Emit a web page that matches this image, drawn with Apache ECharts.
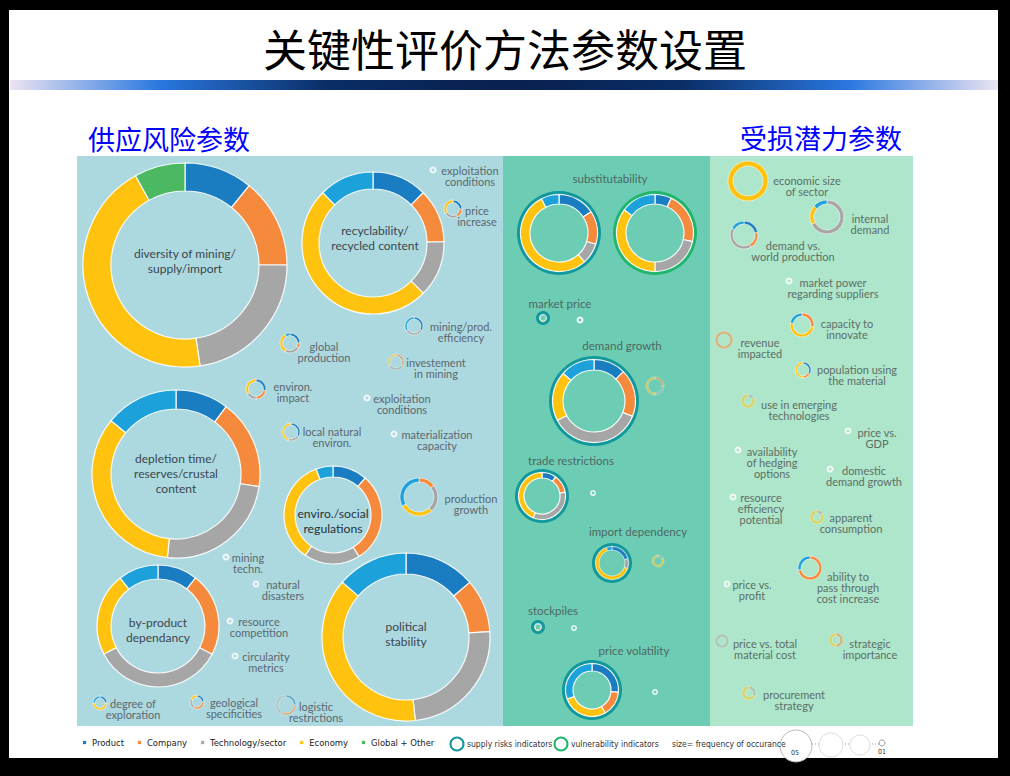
<!DOCTYPE html>
<html><head><meta charset="utf-8">
<script src="https://cdn.jsdelivr.net/npm/echarts/dist/echarts.min.js"></script>
<style>html,body{margin:0;padding:0;background:#000;}#c{width:1010px;height:776px;}</style>
</head><body><div id="c"></div>
<script>
// ---------------- DATA ----------------
const categories = ['Product', 'Company', 'Technology/sector', 'Economy', 'Global + Other', 'Product (other)'];

const indicators = [
  'diversity of mining/\nsupply/import', 'recyclability/\nrecycled content', 'depletion time/\nreserves/crustal\ncontent',
  'enviro./social\nregulations', 'by-product\ndependancy', 'political\nstability', 'production\ngrowth',
  'exploitation\nconditions', 'price\nincrease', 'mining/prod.\nefficiency', 'global\nproduction', 'investement\nin mining',
  'environ.\nimpact', 'exploitation\nconditions', 'local natural\nenviron.', 'materialization\ncapacity', 'mining\ntechn.',
  'natural\ndisasters', 'resource\ncompetition', 'circularity\nmetrics', 'degree of\nexploration', 'geological\nspecificities',
  'logistic\nrestrictions',
  'substitutability', 'substitutability', 'market price', 'market price', 'demand growth', 'demand growth',
  'trade restrictions', 'trade restrictions', 'import dependency', 'import dependency', 'stockpiles', 'stockpiles',
  'price volatility', 'price volatility',
  'economic size\nof sector', 'internal\ndemand', 'demand vs.\nworld production', 'market power\nregarding suppliers',
  'capacity to\ninnovate', 'revenue\nimpacted', 'population using\nthe material', 'use in emerging\ntechnologies',
  'price vs.\nGDP', 'availability\nof hedging\noptions', 'domestic\ndemand growth', 'resource\nefficiency\npotential',
  'apparent\nconsumption', 'ability to\npass through\ncost increase', 'price vs.\nprofit', 'price vs. total\nmaterial cost',
  'strategic\nimportance', 'procurement\nstrategy'
];

// shares of each category (read as arc degrees), one entry per indicator; all zero = single occurrence dot
const product      = [39, 45, 36.7, 41, 38, 49.4, 0,   0, 90, 120, 90, 0, 100, 0, 120, 0, 0, 0, 0, 0, 90, 90, 90,   56.6, 25, 120, 0, 45, 0, 35.6, 0, 75, 0, 90, 0, 95, 0,   0, 0, 80, 0, 0, 0, 120, 0, 0, 0, 0, 0, 0, 0, 0, 0, 0, 0];
const company      = [51, 44, 61.9, 107, 79.6, 36.9, 52, 0, 60, 0, 30, 120, 80, 0, 0, 0, 0, 0, 0, 0, 0, 120, 120,   50.4, 78, 0, 0, 66.7, 90, 45, 0, 0, 0, 90, 0, 55, 0,   0, 0, 70, 0, 100, 360, 60, 0, 0, 0, 0, 0, 0, 260, 0, 0, 180, 0];
const technology   = [81.5, 46, 87.3, 66.6, 125, 87.3, 86, 0, 90, 120, 90, 120, 60, 0, 80, 0, 0, 0, 0, 0, 0, 90, 150,   31.5, 77, 0, 0, 130.3, 90, 121.5, 0, 35, 60, 0, 0, 0, 0,   0, 245, 150, 0, 0, 0, 0, 60, 0, 0, 0, 0, 60, 0, 0, 360, 0, 120];
const economy      = [159.5, 180, 123.5, 125.4, 79.2, 137.1, 104, 0, 120, 0, 120, 120, 120, 0, 160, 0, 0, 0, 0, 0, 180, 60, 0,   194.5, 127, 180, 0, 70, 180, 158, 0, 230, 300, 90, 0, 100, 0,   360, 65, 0, 0, 180, 0, 180, 300, 0, 0, 0, 0, 300, 0, 0, 0, 180, 240];
const globalOther  = [29, 0, 0, 0, 0, 0, 0, 0, 0, 0, 0, 0, 0, 0, 0, 0, 0, 0, 0, 0, 0, 0, 0,   0, 0, 0, 0, 0, 0, 0, 0, 0, 0, 0, 0, 0, 0,   0, 0, 0, 0, 0, 0, 0, 0, 0, 0, 0, 0, 0, 0, 0, 0, 0, 0];
const productOther = [0, 45, 50.6, 20, 38.2, 49.3, 118, 0, 0, 120, 30, 0, 0, 0, 0, 0, 0, 0, 0, 0, 90, 0, 0,   27, 53, 60, 0, 48, 0, 0, 0, 20, 0, 90, 0, 110, 0,   0, 50, 60, 0, 80, 0, 0, 0, 0, 0, 0, 0, 0, 100, 0, 0, 0, 0];
const indicatorType = ['', '', '', '', '', '', '', '', '', '', '', '', '', '', '', '', '', '', '', '', '', '', '',
  'supply', 'vulnerability', 'supply', '', 'supply', '', 'supply', '', 'supply', '', 'supply', '', 'supply', '',
  '', '', '', '', '', '', '', '', '', '', '', '', '', '', '', '', '', ''];

const legendNames = ['Product', 'Company', 'Technology/sector', 'Economy', 'Global + Other'];
const indicatorLegend = ['supply risks indicators', 'vulnerability indicators'];
const sizeLegend = ['size= frequency of occurance', '05', '01'];

// ---------------- LAYOUT (positions / sizes / styles) ----------------
// [cx, cy, rOuter, rInner, labelX, labelY, labelKind, opacity]
const layout = [
  [185,265,102,74,185,253,'big'], [373,243,71,54,375,230,'big'], [176,474,84,65,176,458,'big'],
  [333,515,49,38,333,513,'big2'], [158,626,61,47,158,622,'big'], [406,637,84,63,406,626,'big'], [419,497,19,15,471,498,'s'],
  [433,170,3.5,1.5,470,170,'s'], [453,209,9,6.5,477,210,'s'], [414,326,9,7,461,326,'s'], [290,343,10,7.5,324,346,'s'],
  [396,362,8,6,436,362,'s',0.6], [256,389,10,7.5,293,386,'s'], [367,398,3.5,1.5,402,398,'s'], [291,432,9,7,332,431,'s'],
  [394,434,3.5,1.5,437,434,'s'], [226,557,3.5,1.5,248,557,'s'], [256,584,3.5,1.5,283,584,'s'], [230,621,3.5,1.5,259,621,'s'],
  [235,656,3.5,1.5,266,656,'s'], [100,703,7,5,133,703,'s'], [197,702,7,5,234,702,'s'], [286,705,10,8,316,706,'s',0.6],
  [559,233,42,29,610,178,'h'], [655,233,42,29,0,0,''], [543,318,7,3,560,303,'h'], [580,320,3.5,1.5,0,0,''],
  [594,401,45,31,622,345,'h'], [655,386,9,7,0,0,'',0.6], [542,496,27,18,571,460,'h'], [593,493,3,1.5,0,0,''],
  [612,563,20,13,638,531,'h'], [658,561,6,4,0,0,'',0.6], [538,627,7,3,553,610,'h'], [574,628,3,1.5,0,0,''],
  [592,690,30,19,634,650,'h'], [655,692,3,1.5,0,0,''],
  [748,181,20,15,807,180,'s'], [827,217,17,13,870,218,'s'], [744,235,14,11,793,245,'s'], [789,281,3.5,1.5,833,282,'s'],
  [802,325,12,9,847,323,'s'], [724,340,9,6,760,342,'s',0.5], [803,370,8,6,857,369,'s'], [748,401,7,4,799,404,'s',0.5],
  [848,431,3.5,1.5,877,432,'s'], [738,450,3.5,1.5,772,451,'s'], [830,469,3.5,1.5,864,470,'s'], [733,497,3.5,1.5,761,497,'s'],
  [817,517,7,4,851,517,'s',0.5], [810,568,12,9,848,576,'s'], [727,584,3.5,1.5,752,584,'s'], [722,641,7,4,765,643,'s',0.45],
  [836,640,7,4,870,643,'s',0.5], [749,693,7,4,794,694,'s',0.5]
];

const catColors = ['#1b7dc1', '#f58a3c', '#a6a6a6', '#ffc20e', '#4cb862', '#1da1db'];
const ringColors = {supply: '#12979c', vulnerability: '#1fb66c'};
const FONT = "Lato, 'Open Sans', sans-serif";

// ---------------- BUILD ----------------
const chart = echarts.init(document.getElementById('c'), null, {renderer: 'svg'});
const series = [];
const graphic = [];

function addText(x, y, text, size, color, extra) {
  const lh = (extra && extra.lh) || Math.round(size * 1.0);
  graphic.push({
    type: 'text', z: 50, silent: true,
    style: {
      text: text, x: x, y: y - lh / 2, fill: color,
      fontSize: size, fontFamily: (extra && extra.family) || FONT, fontWeight: (extra && extra.weight) || 'normal',
      textAlign: (extra && extra.align) || 'center', align: (extra && extra.align) || 'center',
      textVerticalAlign: 'top', verticalAlign: 'top', lineHeight: lh
    }
  });
}

// page frame
graphic.push({type: 'rect', shape: {x: 9, y: 10, width: 989, height: 748}, style: {fill: '#ffffff'}, z: 0, silent: true});
graphic.push({type: 'rect', shape: {x: 10, y: 80, width: 988, height: 10}, z: 1, silent: true,
  style: {fill: new echarts.graphic.LinearGradient(0, 0, 1, 0, [
    {offset: 0, color: '#ece4f2'}, {offset: 0.15, color: '#2a78e0'}, {offset: 0.32, color: '#0a2d66'},
    {offset: 0.5, color: '#08204d'}, {offset: 0.68, color: '#0a2d66'}, {offset: 0.85, color: '#2a78e0'},
    {offset: 1, color: '#ece4f2'}])}});
addText(505, 48, '关键性评价方法参数设置', 44, '#000', {family: "'Noto Sans CJK SC', sans-serif", lh: 50});
addText(88, 138, '供应风险参数', 27, '#0000ff', {family: "'Noto Sans CJK SC', sans-serif", align: 'left', lh: 32});
addText(740, 137, '受损潜力参数', 27, '#0000ff', {family: "'Noto Sans CJK SC', sans-serif", align: 'left', lh: 32});

// panels
graphic.push({type: 'rect', shape: {x: 77, y: 156, width: 426, height: 570}, style: {fill: '#acd9df'}, z: 1, silent: true});
graphic.push({type: 'rect', shape: {x: 503, y: 156, width: 207, height: 570}, style: {fill: '#6dcdb4'}, z: 1, silent: true});
graphic.push({type: 'rect', shape: {x: 710, y: 156, width: 203, height: 570}, style: {fill: '#ade6ca'}, z: 1, silent: true});

indicators.forEach(function (name, i) {
  const L = layout[i];
  const cx = L[0], cy = L[1], rO = L[2], rI = L[3];
  const op = L[7] || 1;
  const vals = [product[i], company[i], technology[i], economy[i], globalOther[i], productOther[i]];
  const total = vals.reduce(function (a, b) { return a + b; }, 0);
  const type = indicatorType[i];
  const base = {type: 'pie', center: [cx, cy], silent: true, animation: false, startAngle: 90, clockwise: true,
    label: {show: false}, labelLine: {show: false}, emphasis: {disabled: true}, z: 5};
  if (total === 0) {
    series.push(Object.assign({}, base, {name: name, radius: [rI, rO],
      data: [{name: name, value: 1, itemStyle: {color: '#f3fafa'}}], itemStyle: {opacity: 0.95}}));
  } else {
    const data = [];
    vals.forEach(function (v, k) { if (v > 0) data.push({name: categories[k], value: v, itemStyle: {color: catColors[k]}}); });
    const segOuter = type ? rO - 3.5 : rO;
    series.push(Object.assign({}, base, {name: name, radius: [rI, segOuter], data: data,
      itemStyle: {borderColor: 'rgba(255,255,255,0.9)', borderWidth: rO > 25 ? 1.2 : 0.6, opacity: op}}));
    if (type) {
      series.push(Object.assign({}, base, {name: type, radius: [rO - 2.8, rO],
        data: [{name: type === 'supply' ? indicatorLegend[0] : indicatorLegend[1], value: 1, itemStyle: {color: ringColors[type]}}]}));
    }
  }
  const kind = L[6];
  if (kind === 'big') addText(L[4], L[5], name, 12, '#3b464e', {lh: 15});
  else if (kind === 'big2') addText(L[4], L[5], name, 12.2, '#27323a', {lh: 15});
  else if (kind === 'h') addText(L[4], L[5], name, 11.5, '#4e6763', {lh: 12});
  else if (kind === 's') addText(L[4], L[5], name, 11, i >= 37 ? '#5d6e68' : '#5b6770', {lh: 11});
});

// legend extras: indicator rings & size legend
const LF = "'Liberation Sans Narrow', 'DejaVu Sans Condensed', sans-serif";
graphic.push({type: 'circle', shape: {cx: 457, cy: 744, r: 6.5}, style: {fill: 'none', stroke: ringColors.supply, lineWidth: 2}, z: 5});
addText(467, 744, indicatorLegend[0], 8.5, '#333', {align: 'left', family: LF, lh: 10});
graphic.push({type: 'circle', shape: {cx: 561, cy: 744, r: 6.5}, style: {fill: 'none', stroke: ringColors.vulnerability, lineWidth: 2}, z: 5});
addText(571, 744, indicatorLegend[1], 8.5, '#333', {align: 'left', family: LF, lh: 10});
addText(672, 744, sizeLegend[0], 8.5, '#333', {align: 'left', family: LF, lh: 10});
graphic.push({type: 'line', shape: {x1: 812, y1: 744, x2: 880, y2: 744}, style: {stroke: '#999', lineWidth: 1, lineDash: [1, 2]}, z: 4});
graphic.push({type: 'circle', shape: {cx: 796, cy: 746, r: 16}, style: {fill: '#fff', stroke: '#bbb', lineWidth: 1}, z: 5});
graphic.push({type: 'circle', shape: {cx: 831, cy: 745, r: 12}, style: {fill: '#fff', stroke: '#ddd', lineWidth: 1}, z: 5});
graphic.push({type: 'circle', shape: {cx: 860, cy: 745, r: 10}, style: {fill: '#fff', stroke: '#ddd', lineWidth: 1}, z: 5});
graphic.push({type: 'circle', shape: {cx: 882, cy: 743, r: 3}, style: {fill: '#fff', stroke: '#999', lineWidth: 1}, z: 5});
addText(795, 753, sizeLegend[1], 7, '#333', {family: LF, lh: 8});
addText(882, 752, sizeLegend[2], 7, '#333', {family: LF, lh: 8});

chart.setOption({
  animation: false,
  backgroundColor: '#000',
  legend: {data: legendNames, left: 81, top: 738, padding: 0, icon: 'rect', itemWidth: 5, itemHeight: 5, itemGap: 12,
    selectedMode: false, textStyle: {fontSize: 9.4, color: '#222', fontFamily: LF}},
  graphic: {elements: graphic},
  series: series
});
</script></body></html>
